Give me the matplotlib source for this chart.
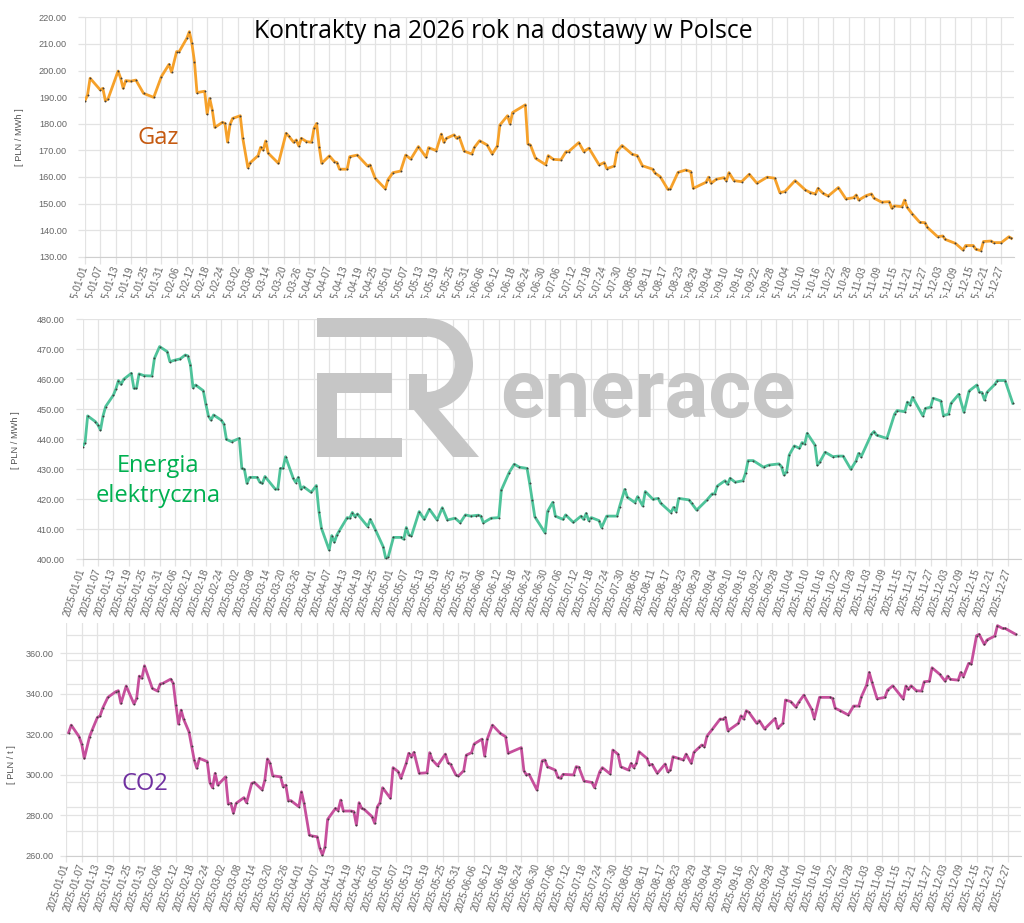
import numpy as np
import pandas as pd
import matplotlib
matplotlib.use("Agg")
import matplotlib.pyplot as plt
import matplotlib.dates as mdates
from matplotlib.ticker import FormatStrFormatter
from matplotlib.patches import Rectangle, Wedge, Polygon
from matplotlib.transforms import Affine2D, Bbox, TransformedBbox

plt.rcParams["font.family"] = ["Liberation Sans", "DejaVu Sans"]

# ---------------- data (day offset from 2025-01-01, value) ----------------
gas_days = [0, 1, 2, 6, 7, 8, 9, 13, 14, 15, 16, 18, 20, 23, 27, 30, 33, 34, 36, 37, 40, 41, 42, 43, 44,
            47, 48, 49, 50, 51, 54, 55, 56, 57, 58, 61, 62, 64, 65, 68, 69, 70, 71, 72, 76, 79, 80, 82,
            83, 84, 85, 87, 89, 90, 91, 92, 93, 96, 98, 99, 100, 103, 104, 107, 111, 112, 114, 118, 119,
            121, 124, 126, 128, 131, 134, 135, 138, 140, 141, 142, 145, 146, 147, 149, 152, 153, 155, 158,
            160, 162, 163, 166, 167, 168, 173, 174, 175, 177, 181, 182, 184, 187, 189, 190, 194, 196, 198,
            202, 204, 205, 208, 209, 211, 215, 217, 219, 223, 224, 226, 229, 230, 233, 236, 238, 239, 244,
            245, 246, 248, 251, 252, 253, 255, 258, 261, 264, 268, 271, 273, 275, 279, 283, 285, 287, 288,
            290, 292, 296, 299, 302, 303, 304, 307, 309, 310, 313, 316, 317, 318, 321, 322, 323, 325, 328,
            330, 331, 335, 337, 338, 342, 345, 346, 349, 350, 352, 353, 356, 357, 360, 363, 364]
gas_vals = [188.7, 190.8, 197.1, 192.7, 193.3, 188.7, 189.2, 199.8, 197.1, 193.3, 196.2, 196.0, 196.4, 191.4,
            189.9, 197.7, 202.3, 199.4, 207.1, 207.1, 212.1, 214.6, 210.2, 203.3, 191.7, 192.2, 183.7, 189.5,
            185.2, 178.6, 180.5, 180.1, 173.1, 179.8, 182.0, 183.0, 174.5, 163.5, 165.4, 168.0, 171.1, 170.1,
            173.5, 168.9, 165.1, 176.4, 175.4, 173.0, 173.9, 171.6, 174.5, 173.3, 173.0, 178.3, 180.1, 171.4,
            165.1, 167.9, 165.7, 165.4, 162.9, 162.9, 167.6, 168.2, 164.1, 164.5, 159.5, 155.5, 158.9, 161.6,
            162.2, 168.2, 166.7, 171.4, 167.4, 171.0, 169.9, 176.1, 173.0, 174.5, 175.8, 174.5, 175.1, 169.7,
            168.6, 171.1, 173.6, 172.0, 168.6, 171.6, 179.5, 183.0, 179.9, 184.2, 187.1, 172.4, 172.0, 167.0,
            164.6, 168.0, 166.6, 166.4, 169.5, 169.5, 172.9, 169.5, 170.8, 164.5, 165.4, 163.1, 164.1, 169.5,
            171.8, 168.5, 168.0, 164.2, 162.9, 161.4, 160.1, 155.3, 155.5, 161.7, 162.6, 162.0, 155.7, 158.0,
            159.9, 157.6, 159.1, 159.7, 158.6, 161.6, 158.6, 158.2, 161.0, 157.6, 159.9, 159.5, 154.1, 154.5,
            158.6, 155.1, 154.1, 153.6, 155.7, 153.8, 152.8, 156.0, 151.7, 152.2, 153.2, 151.3, 153.0, 153.6,
            152.0, 150.5, 150.7, 148.2, 149.1, 148.8, 151.3, 148.6, 146.1, 142.9, 142.8, 141.0, 137.5, 137.8,
            136.5, 135.0, 132.5, 134.2, 134.2, 132.8, 132.3, 135.7, 135.9, 135.3, 135.3, 137.5, 136.9]

ee_days = [0, 1, 2, 5, 6, 7, 8, 9, 12, 13, 14, 15, 16, 19, 20, 21, 22, 24, 27, 28, 30, 33, 34, 36, 38, 40,
           41, 42, 43, 44, 47, 48, 49, 50, 51, 54, 55, 56, 58, 61, 62, 63, 64, 65, 68, 69, 70, 71, 75, 76,
           77, 78, 79, 82, 83, 84, 85, 86, 89, 91, 92, 93, 96, 97, 98, 99, 100, 103, 104, 105, 106, 107,
           111, 112, 114, 117, 118, 119, 121, 124, 125, 126, 127, 128, 131, 133, 135, 138, 140, 142, 145,
           147, 149, 151, 153, 154, 155, 156, 159, 162, 163, 166, 168, 170, 173, 174, 175, 176, 180, 181,
           183, 184, 187, 188, 191, 194, 195, 196, 197, 198, 201, 202, 204, 208, 209, 211, 212, 215, 216,
           218, 219, 222, 224, 225, 229, 230, 231, 232, 236, 237, 239, 243, 245, 246, 247, 250, 251, 252,
           254, 257, 258, 259, 261, 265, 267, 271, 272, 273, 274, 275, 277, 279, 280, 281, 282, 285, 286,
           287, 289, 292, 294, 296, 299, 301, 302, 303, 307, 308, 309, 313, 316, 317, 320, 321, 322, 323,
           327, 328, 330, 331, 334, 335, 337, 338, 341, 343, 345, 348, 349, 350, 351, 352, 355, 356, 359, 362]
ee_vals = [437.6, 438.9, 447.8, 445.9, 444.8, 443.1, 447.8, 450.9, 454.7, 456.8, 459.6, 458.3, 460.0, 462.0,
           457.0, 457.0, 461.8, 461.2, 461.1, 467.0, 470.9, 469.2, 465.9, 466.4, 466.8, 468.1, 467.8, 464.8,
           457.2, 458.1, 456.2, 451.7, 447.8, 446.4, 448.1, 446.4, 445.1, 440.0, 439.2, 440.3, 430.3, 430.0,
           425.3, 427.3, 427.3, 425.7, 425.3, 427.6, 423.4, 423.4, 430.3, 430.3, 434.2, 427.0, 425.6, 427.3,
           423.4, 424.2, 422.3, 424.6, 415.9, 410.3, 403.1, 407.9, 405.7, 408.1, 409.6, 413.9, 413.7, 415.6,
           414.2, 415.1, 410.9, 413.3, 409.8, 404.2, 400.3, 400.9, 407.3, 407.3, 406.7, 410.6, 408.1, 407.8,
           415.9, 413.3, 416.7, 413.1, 417.2, 413.1, 413.7, 412.2, 414.8, 414.4, 414.6, 414.7, 414.4, 412.2,
           413.7, 413.9, 423.1, 428.9, 431.7, 430.7, 430.3, 425.3, 419.8, 414.2, 408.8, 416.0, 419.0, 414.4,
           413.3, 414.8, 412.3, 414.4, 413.3, 415.3, 412.9, 413.9, 412.9, 410.6, 414.4, 414.4, 417.6, 423.3,
           420.7, 418.9, 420.9, 417.8, 422.6, 420.0, 420.3, 418.7, 415.6, 417.3, 415.9, 420.3, 419.8, 418.7,
           416.4, 419.8, 421.8, 421.8, 424.4, 426.2, 425.0, 427.0, 425.7, 426.2, 428.7, 432.9, 432.9, 430.7,
           431.4, 431.8, 430.9, 428.1, 429.2, 434.8, 437.8, 437.0, 438.9, 438.4, 442.0, 438.1, 431.4, 432.6,
           435.7, 434.2, 434.4, 434.4, 430.0, 432.8, 435.3, 434.2, 441.7, 442.6, 441.4, 440.3, 448.4, 449.6,
           449.2, 452.4, 451.4, 454.0, 447.8, 450.3, 450.7, 453.7, 452.8, 447.9, 448.4, 452.0, 455.0, 449.0,
           456.1, 458.1, 455.7, 455.6, 453.1, 455.7, 458.3, 459.6, 459.6, 452.0]

co2_days = [1, 2, 5, 6, 7, 9, 10, 12, 13, 14, 16, 19, 20, 21, 23, 26, 27, 28, 29, 30, 33, 35, 36, 37, 40,
            41, 42, 43, 44, 45, 47, 48, 49, 50, 51, 54, 55, 56, 57, 58, 61, 62, 63, 64, 65, 68, 69, 71, 72,
            75, 76, 77, 78, 79, 82, 83, 84, 85, 86, 89, 90, 91, 93, 94, 96, 97, 98, 99, 100, 103, 104, 105,
            106, 109, 110, 111, 112, 113, 114, 117, 118, 119, 120, 121, 124, 125, 127, 128, 130, 131, 132,
            133, 135, 138, 139, 140, 142, 145, 146, 147, 149, 150, 152, 153, 155, 156, 159, 160, 161, 163,
            166, 168, 169, 174, 175, 176, 177, 180, 182, 183, 184, 187, 188, 189, 190, 194, 195, 196, 198,
            201, 202, 204, 205, 208, 209, 211, 212, 215, 216, 217, 218, 219, 222, 223, 224, 226, 229, 230,
            231, 232, 234, 236, 237, 239, 240, 242, 243, 244, 245, 247, 250, 251, 252, 253, 257, 258, 259,
            260, 261, 264, 265, 267, 271, 272, 274, 275, 277, 279, 280, 282, 285, 286, 288, 292, 293, 294,
            296, 299, 301, 303, 304, 306, 307, 308, 310, 313, 314, 316, 320, 321, 322, 323, 325, 327, 328,
            330, 331, 334, 336, 337, 338, 341, 342, 343, 345, 346, 348, 349, 351, 352, 355, 356, 358, 359, 363]
co2_vals = [320.9, 324.6, 318.9, 315.3, 308.2, 318.9, 322.2, 328.4, 329.1, 332.9, 338.3, 341.1, 341.6, 335.3,
            343.9, 335.0, 337.8, 348.8, 347.7, 353.9, 342.7, 341.4, 344.9, 345.2, 347.3, 345.2, 334.5, 325.1,
            332.0, 327.4, 321.3, 314.3, 307.4, 303.3, 308.2, 306.6, 296.2, 293.7, 300.8, 295.0, 299.1, 285.7,
            286.0, 281.1, 286.0, 288.8, 286.3, 295.9, 296.3, 292.6, 297.5, 307.9, 305.7, 299.6, 299.1, 294.2,
            295.0, 287.3, 287.3, 284.3, 291.7, 286.0, 270.4, 269.9, 269.5, 263.8, 260.5, 264.6, 278.1, 283.5,
            282.4, 287.6, 282.2, 282.2, 281.9, 275.3, 286.3, 283.5, 283.0, 279.4, 276.1, 284.3, 286.3, 293.7,
            288.5, 303.6, 301.6, 298.3, 305.7, 310.7, 309.0, 311.2, 300.8, 301.1, 311.0, 307.4, 304.6, 310.3,
            306.1, 305.2, 300.0, 299.5, 302.1, 309.8, 311.0, 315.3, 317.7, 309.3, 317.7, 324.6, 320.5, 318.9,
            310.7, 313.5, 302.1, 300.0, 300.3, 292.6, 307.0, 307.4, 304.1, 302.4, 298.8, 298.3, 300.3, 300.0,
            304.1, 303.8, 297.0, 296.3, 293.7, 301.6, 303.6, 300.5, 312.3, 310.2, 304.1, 302.4, 305.7, 303.6,
            305.7, 311.5, 308.2, 304.9, 305.2, 300.8, 305.4, 301.6, 302.4, 309.0, 308.2, 307.4, 310.3, 305.7,
            311.2, 313.6, 314.8, 313.9, 319.2, 322.5, 327.6, 327.4, 328.4, 321.8, 325.5, 329.2, 327.6, 331.7,
            330.9, 325.5, 326.8, 322.7, 327.9, 323.0, 325.5, 337.0, 336.2, 333.4, 335.8, 339.4, 332.4, 327.8,
            338.3, 338.3, 337.8, 332.9, 331.7, 329.6, 334.0, 334.0, 338.6, 344.4, 350.6, 346.0, 337.6, 338.3,
            341.9, 344.0, 337.5, 343.9, 342.2, 344.0, 341.6, 341.4, 346.0, 346.3, 352.9, 349.6, 346.3, 348.8,
            347.2, 346.8, 350.6, 348.5, 355.1, 354.7, 368.7, 369.4, 364.4, 366.6, 368.6, 373.7, 372.3, 372.3,
            369.4]

title = "Kontrakty na 2026 rok na dostawy w Polsce"
gas_label = "Gaz"
ee_label = "Energia\nelektryczna"
co2_label = "CO2"
unit_energy = "[ PLN / MWh ]"
unit_co2 = "[ PLN / t ]"
gas_yticks = list(range(130, 221, 10))
ee_yticks = list(range(400, 481, 10))
co2_yticks = list(range(260, 361, 20))

# ---------------- layout helpers (pixel -> figure fraction) ----------------
W, H = 1024, 923
fig = plt.figure(figsize=(W / 100, H / 100), dpi=100)
fig.patch.set_facecolor("white")


def fx(x):
    return x / W


def fy(y):
    return 1 - y / H


def rect(l, t, r, b):
    return [fx(l), fy(b), (r - l) / W, (b - t) / H]


px = Affine2D().scale(1 / W, -1 / H).translate(0, 1) + fig.transFigure

start = pd.Timestamp("2025-01-01")


def to_dates(days):
    return start + pd.to_timedelta(np.asarray(days), unit="D")


xticks = pd.date_range("2025-01-01", "2025-12-31", freq="6D")
GRID = "#E3E3E3"


def style(ax, ylim, yticks, tick_len, pad):
    ax.set_xlim(start, start + pd.Timedelta(days=365))
    ax.set_ylim(*ylim)
    ax.set_yticks(yticks)
    ax.yaxis.set_major_formatter(FormatStrFormatter("%.2f"))
    ax.set_xticks(xticks)
    ax.xaxis.set_major_formatter(mdates.DateFormatter("%Y-%m-%d"))
    ax.grid(True, color=GRID, lw=0.9)
    for s in ax.spines.values():
        s.set_visible(False)
    ax.spines["bottom"].set_visible(True)
    ax.spines["bottom"].set_color("#CFCFCF")
    ax.tick_params(axis="both", colors=GRID, labelcolor="#666666", length=tick_len, width=0.9)
    ax.tick_params(axis="y", labelsize=6.6, pad=pad)
    ax.tick_params(axis="x", labelsize=7, pad=2)
    for lab in ax.get_xticklabels():
        lab.set_rotation(72)
        lab.set_ha("right")
        lab.set_va("center")
        lab.set_rotation_mode("anchor")


def draw(ax, days, vals, color):
    ax.plot(to_dates(days), vals, color=color, lw=2.0, zorder=3,
            marker="o", ms=1.4, mfc="#404040", mec="none", solid_joinstyle="round")


# ---------------- top: gas ----------------
ax1 = fig.add_axes(rect(85, 17.3, 1014, 256.7))
style(ax1, (130, 220), gas_yticks, 5, 8)
draw(ax1, gas_days, gas_vals, "#F6A12A")

# the reference crops the top panel's date labels at ~298 px from the top
clip = TransformedBbox(Bbox([[0, fy(298)], [1, 1]]), fig.transFigure)
for lab in ax1.get_xticklabels():
    lab.set_clip_box(clip)
    lab.set_clip_on(True)

# ---------------- middle: electricity ----------------
ax2 = fig.add_axes(rect(82.5, 319.3, 1020.5, 559.3))
style(ax2, (400, 480), ee_yticks, 5, 8)
draw(ax2, ee_days, ee_vals, "#4EC39A")

# ---------------- bottom: CO2 ----------------
ax3 = fig.add_axes(rect(66, 623, 1021, 856))
style(ax3, (260, 375), co2_yticks, 4, 5)
for v in np.arange(260 + 12.1, 375, 12.1):
    ax3.axhline(v, color=GRID, lw=0.9, zorder=1.4)
draw(ax3, co2_days, co2_vals, "#C64F9C")

# ---------------- watermark ----------------
WM = "#C6C6C6"
shapes = [
    Rectangle((316.7, 318.3), 110.3, 18.4),           # top bar
    Wedge((427, 364.3), 46, -90, 90, width=18.4),     # R bowl
    Rectangle((409, 374), 18, 36.3),                  # R short stem
    Polygon([(409, 404), (434, 404), (479, 457), (453, 457)]),  # R leg
    Rectangle((316.7, 373.3), 75, 20),                # E top
    Rectangle((316.7, 373.3), 20, 83.4),              # E stem
    Rectangle((316.7, 438.3), 85, 18.4),              # E bottom
]
for s in shapes:
    s.set_transform(px)
    s.set_facecolor(WM)
    s.set_edgecolor("none")
    s.set_zorder(1.8)
    s.set_clip_on(False)
    ax2.add_artist(s)
ax2.text(500, 417, "enerace", transform=px, fontsize=59, fontweight="bold", family="Roboto",
         color=WM, ha="left", va="baseline", zorder=1.8)

# ---------------- texts ----------------
fig.text(fx(503), fy(31), title, ha="center", va="center", fontsize=17.8, family="Open Sans", color="black")
fig.text(fx(158), fy(138), gas_label, ha="center", va="center", fontsize=17, family="Open Sans", color="#C55A11")
fig.text(fx(158), fy(481), ee_label, ha="center", va="center", fontsize=17, family="Open Sans",
         color="#00B050", linespacing=1.3)
fig.text(fx(145), fy(784), co2_label, ha="center", va="center", fontsize=17, family="Open Sans", color="#7030A0")

fig.text(fx(20), fy(137), unit_energy, rotation=90, ha="center", va="center", fontsize=6.7, color="#555555")
fig.text(fx(15), fy(440), unit_energy, rotation=90, ha="center", va="center", fontsize=6.7, color="#555555")
fig.text(fx(12), fy(765), unit_co2, rotation=90, ha="center", va="center", fontsize=6.7, color="#555555")

fig.savefig("out.png", dpi=100, facecolor="white")
